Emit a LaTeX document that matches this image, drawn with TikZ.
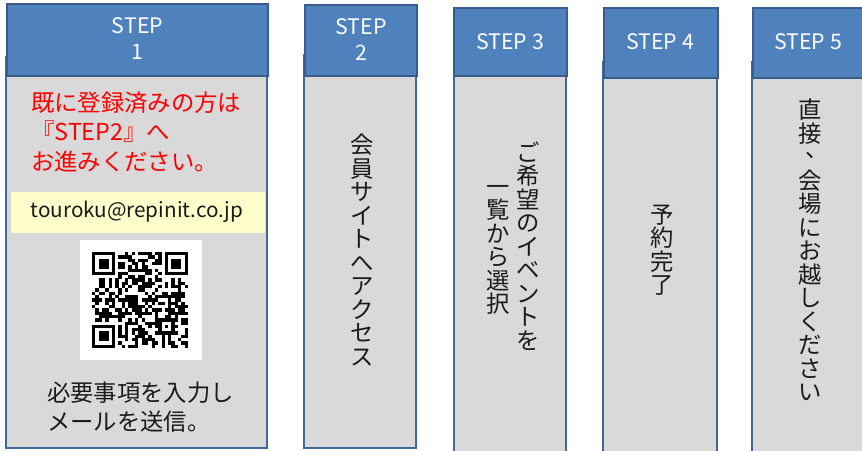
\documentclass[tikz,border=0pt]{standalone}
\usepackage{fontspec}
\setmainfont{Noto Sans CJK JP}
\definecolor{headblue}{HTML}{4F81BD}
\definecolor{headedge}{HTML}{385D8A}
\definecolor{bodygray}{HTML}{D9D9D9}
\definecolor{bodyedge}{HTML}{41689A}
\definecolor{mailyellow}{HTML}{FFFFCC}
\definecolor{darktext}{HTML}{1A1A1A}
\begin{document}
\begin{tikzpicture}[x=0.75pt, y=-0.75pt,
    stephead/.style={fill=headblue, draw=headedge, line width=1.8pt},
    stepbody/.style={fill=bodygray, draw=bodyedge, line width=1.2pt},
    headtext/.style={text=white, font=\fontsize{16}{19}\selectfont, align=center, inner sep=0pt},
    vtext/.style={text=darktext, font=\fontsize{17.5}{17.6}\selectfont, align=center, inner sep=0pt},
    htext/.style={font=\fontsize{17.5}{21.8}\selectfont, align=left, inner sep=0pt, anchor=west}]

    \useasboundingbox (0,0) rectangle (862,450);
    \clip (0,0) rectangle (862,450);

    % Bodies
    \draw[stepbody] (6,57) rectangle (267,448);
    \draw[stepbody] (304,55) rectangle (416,448);
    \draw[stepbody] (454,62) rectangle (566,460);
    \draw[stepbody] (603,62) rectangle (717,460);
    \draw[stepbody] (752,62) rectangle (866,460);

    % Headers
    \draw[stephead] (7,4) rectangle (268,76);
    \draw[stephead] (305,5) rectangle (417,76);
    \draw[stephead] (454,8) rectangle (567,76);
    \draw[stephead] (604,8) rectangle (718,78);
    \draw[stephead] (753,8) rectangle (867,78);

    \node[headtext] (h1) at (137.5,38.5) {STEP\\1};
    \node[headtext] (h2) at (361,39.5) {STEP\\2};
    \node[headtext] (h3) at (510,42) {STEP 3};
    \node[headtext] (h4) at (660,42) {STEP 4};
    \node[headtext] (h5) at (808,42) {STEP 5};

    % Step 1
    \node[htext, text=red] (note) at (31,132) {既に登録済みの方は\\『STEP2』へ\\お進みください。};

    \fill[mailyellow] (11,192) rectangle (265,233);
    \node[text=darktext, font=\fontsize{15.5}{18}\selectfont, inner sep=0pt] (mail) at (137,212) {touroku@repinit.co.jp};

    \fill[white] (80,240) rectangle (202,360);
    \pgfmathsetseed{7}
    \foreach \r in {0,...,28}{
        \foreach \c in {0,...,28}{
            \pgfmathtruncatemacro{\bit}{(rnd<0.5)*(1-and(\r<8,\c<8))*(1-and(\r<8,\c>20))*(1-and(\r>20,\c<8))}
            \ifnum\bit>0
                \fill (92+\c*3.31,252+\r*3.31) rectangle ++(3.35,3.35);
            \fi
        }
    }
    \foreach \fx/\fy in {92/252, 164.8/252, 92/324.8}{
        \fill (\fx,\fy) rectangle ++(23.17,23.17);
        \fill[white] (\fx+3.31,\fy+3.31) rectangle ++(16.55,16.55);
        \fill (\fx+6.62,\fy+6.62) rectangle ++(9.93,9.93);
    }
    \fill (158.2,318.2) rectangle ++(16.55,16.55);
    \fill[white] (161.5,321.5) rectangle ++(9.93,9.93);
    \fill (164.8,324.8) rectangle ++(3.31,3.31);

    \node[htext, text=darktext] (send) at (47,407.5) {必要事項を入力し\\メールを送信。};

    % Steps 2 to 5
    \node[vtext] (v2) at (362,250) {会\\員\\サ\\イ\\ト\\へ\\ア\\ク\\セ\\ス};
    \node[vtext] (v3a) at (528,246) {ご\\希\\望\\の\\イ\\ベ\\ン\\ト\\を};
    \node[vtext] (v3b) at (498,250) {一\\覧\\か\\ら\\選\\択};
    \node[vtext] (v4) at (662,250) {予\\約\\完\\了};
    \node[vtext] (v5) at (810,250) {直\\接\\\hspace*{0.6em}\raisebox{0.35em}{、}\\会\\場\\に\\お\\越\\し\\く\\だ\\さ\\い};

\end{tikzpicture}
\end{document}
